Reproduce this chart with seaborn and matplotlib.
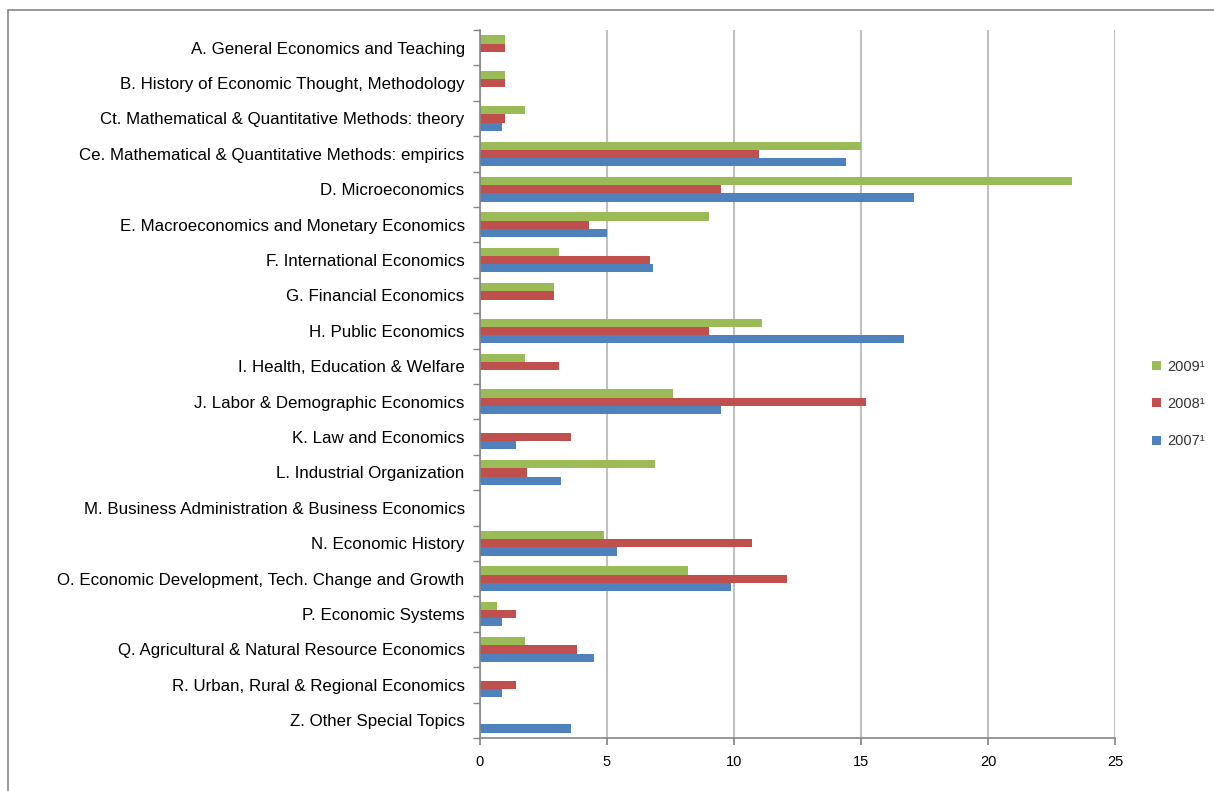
import pandas as pd
import matplotlib.pyplot as plt
import seaborn as sns
from matplotlib.patches import Rectangle

# categories (top to bottom)
fields = [
    "A. General Economics and Teaching",
    "B. History of Economic Thought, Methodology",
    "Ct. Mathematical & Quantitative Methods: theory",
    "Ce. Mathematical & Quantitative Methods: empirics",
    "D. Microeconomics",
    "E. Macroeconomics and Monetary Economics",
    "F. International Economics",
    "G. Financial Economics",
    "H. Public Economics",
    "I. Health, Education & Welfare",
    "J. Labor & Demographic Economics",
    "K. Law and Economics",
    "L. Industrial Organization",
    "M. Business Administration & Business Economics",
    "N. Economic History",
    "O. Economic Development, Tech. Change and Growth",
    "P. Economic Systems",
    "Q. Agricultural & Natural Resource Economics",
    "R. Urban, Rural & Regional Economics",
    "Z. Other Special Topics",
]

share_2009 = [1.0, 1.0, 1.76, 15.0, 23.3, 9.0, 3.1, 2.9, 11.1, 1.76,
              7.6, 0.0, 6.9, 0.0, 4.9, 8.2, 0.68, 1.76, 0.0, 0.0]
share_2008 = [1.0, 1.0, 1.0, 11.0, 9.5, 4.3, 6.7, 2.9, 9.0, 3.1,
              15.2, 3.6, 1.87, 0.0, 10.7, 12.1, 1.4, 3.8, 1.4, 0.0]
share_2007 = [0.0, 0.0, 0.88, 14.4, 17.1, 5.0, 6.8, 0.0, 16.7, 0.0,
              9.5, 1.4, 3.2, 0.0, 5.4, 9.9, 0.88, 4.5, 0.88, 3.57]

years = ["2009\u00b9", "2008\u00b9", "2007\u00b9"]
colors = ["#9BBB59", "#C0504D", "#4F81BD"]

df = pd.DataFrame({
    "field": fields * 3,
    "year": [years[0]] * len(fields) + [years[1]] * len(fields) + [years[2]] * len(fields),
    "share": share_2009 + share_2008 + share_2007,
})

sns.set_theme(style="white")
plt.rcParams["font.family"] = ["Liberation Sans", "DejaVu Sans"]

fig = plt.figure(figsize=(12.14, 7.91), dpi=100)
ax = fig.add_axes([480 / 1214, 1 - 738 / 791, (1115 - 480) / 1214, (738 - 30) / 791])

sns.barplot(data=df, y="field", x="share", hue="year", hue_order=years,
            palette=colors, orient="h", width=0.7, saturation=1,
            linewidth=0, order=fields, ax=ax)

ax.set_xlim(0, 25)
ax.set_ylim(19.5, -0.5)
ax.set_xticks(range(0, 26, 5))
ax.xaxis.grid(True, color="#C0C0C0", linewidth=1.5)
ax.set_axisbelow(True)
ax.set_xlabel("")
ax.set_ylabel("")

for side in ["top", "right"]:
    ax.spines[side].set_visible(False)
for side in ["left", "bottom"]:
    ax.spines[side].set_color("#868686")
    ax.spines[side].set_linewidth(1.2)

ax.tick_params(axis="y", which="major", length=0, pad=11, labelsize=12.2, labelcolor="black")
ax.tick_params(axis="x", which="major", length=5, direction="out", color="#868686",
               labelsize=10.5, labelcolor="black", bottom=True, pad=7)
ax.set_yticks([i - 0.5 for i in range(21)], minor=True)
ax.tick_params(axis="y", which="minor", length=5, direction="out", color="#868686", left=True)

ax.legend(loc="center left", bbox_to_anchor=(1152 / 1214, 1 - 404 / 791),
          bbox_transform=fig.transFigure, frameon=False, fontsize=10.5,
          borderpad=0, borderaxespad=0,
          handlelength=0.6, handleheight=0.6, labelspacing=1.6, handletextpad=0.45,
          labelcolor="#333333")

# outer chart border
fig.patches.append(Rectangle((8 / 1214, -0.01), 1.0, 1 - 10 / 791 + 0.01,
                             transform=fig.transFigure, fill=False,
                             edgecolor="#868686", linewidth=1.2))

plt.savefig("out.png", dpi=100)
plt.close()
